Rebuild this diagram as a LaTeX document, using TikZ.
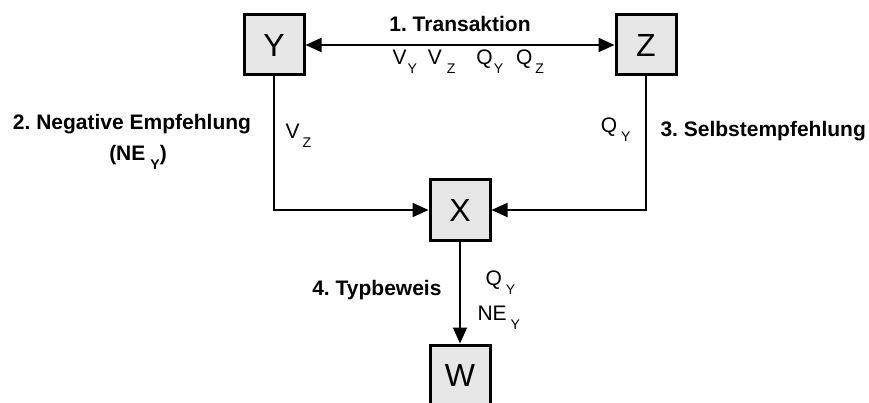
\documentclass[tikz,border=0pt]{standalone}
\usepackage{fontspec}
\setmainfont{Liberation Sans}
\usetikzlibrary{arrows.meta}
\definecolor{kastengrau}{RGB}{230,230,230}
\newcommand{\tief}[2][1pt]{\kern#1\raisebox{-9pt}{\fontsize{14}{14}\selectfont #2}}
\frenchspacing
\tikzset{
  >={Triangle[length=16pt, width=14pt]},
  kasten/.style={draw, line width=3pt, fill=kastengrau, minimum size=60pt, inner sep=0pt,
    font=\fontsize{32}{32}\selectfont},
  pfeil/.style={->, line width=2pt},
  titel/.style={font=\fontsize{21}{31}\selectfont\bfseries},
  wert/.style={font=\fontsize{21}{25}\selectfont},
}

\begin{document}
\begin{tikzpicture}[x=1pt, y=-1pt]
  \useasboundingbox (0,0) rectangle (869,403);
  \node[kasten] (Y) at (274,45) {Y};
  \node[kasten] (Z) at (646,45) {Z};
  \node[kasten] (X) at (460,210) {X};
  \node[kasten] (W) at (460,375) {W};
  \draw[pfeil, <->] (Y) -- (Z);
  \draw[pfeil] (Y.south) |- (X.west);
  \draw[pfeil] (Z.south) |- (X.east);
  \draw[pfeil] (X) -- (W);
  \node[titel, anchor=base] (transaktion) at (460,32) {1. Transaktion};
  \node[wert, anchor=base west] (werte) at (389,65)
    {V\tief{Y}\hspace{11pt}V\tief[5pt]{Z}\hspace{21pt}Q\tief{Y}\hspace{13pt}Q\tief[3pt]{Z}};
  \node[titel, align=center] (negativ) at (132,142)
    {2. Negative Empfehlung\\\hspace*{12pt}(NE\tief[5pt]{Y})};
  \node[wert, anchor=base west] (vz) at (282,139) {V\tief[3pt]{Z}};
  \node[wert, anchor=base east] (qy) at (634,133) {Q\tief[4pt]{Y}};
  \node[titel, anchor=base west] (selbst) at (657,137) {3. Selbstempfehlung};
  \node[titel, anchor=base east] (typ) at (445,295) {4. Typbeweis};
  \node[wert, anchor=base west] (qy2) at (482,285) {Q\tief[4pt]{Y}};
  \node[wert, anchor=base west] (ney) at (474,320) {NE\tief[4pt]{Y}};
\end{tikzpicture}
\end{document}
